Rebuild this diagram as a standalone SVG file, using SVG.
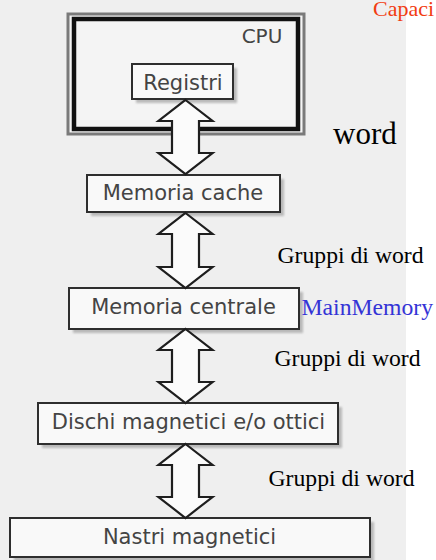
<svg xmlns="http://www.w3.org/2000/svg" width="436" height="560" viewBox="0 0 436 560">
  <style>
    .box { fill: #f9f9f9; stroke: #2e2e2e; stroke-width: 2; }
    .shadow { fill: #8c8c8c; opacity: 0.55; }
    .lbl { font-family: "DejaVu Sans", Verdana, sans-serif; font-size: 21px; fill: #444444; text-anchor: middle; }
    .note { font-family: "Liberation Serif", "Times New Roman", serif; font-size: 23.7px; fill: #000; }
    .arrow { fill: #fbfbfb; stroke: #1e1e1e; stroke-width: 2.2; stroke-linejoin: miter; }
  </style>
  <defs>
    <filter id="blur" x="-10%" y="-10%" width="130%" height="140%">
      <feGaussianBlur stdDeviation="1.2"/>
    </filter>
  </defs>

  <!-- scanned page background -->
  <rect x="0" y="0" width="436" height="560" fill="#ffffff"/>
  <rect x="0" y="0" width="406" height="560" fill="#efefef"/>

  <g id="cpu">
    <rect x="68" y="14" width="236" height="120" fill="#f4f4f4" stroke="#7a7a7a" stroke-width="3"/>
    <rect x="74" y="19" width="224" height="110" fill="none" stroke="#111" stroke-width="4.5"/>
    <text x="262" y="43" class="lbl" style="font-size:20px">CPU</text>
  </g>

  <g id="registri">
    <rect x="136" y="68" width="101" height="35" class="shadow" filter="url(#blur)"/>
    <rect x="132" y="64" width="101" height="35" class="box"/>
    <text x="183" y="90" class="lbl">Registri</text>
  </g>

  <g id="cache">
    <rect x="91" y="179" width="193" height="37" class="shadow" filter="url(#blur)"/>
    <rect x="87" y="175" width="193" height="37" class="box"/>
    <text x="183" y="200" class="lbl">Memoria cache</text>
  </g>

  <g id="centrale">
    <rect x="73" y="292" width="230" height="41" class="shadow" filter="url(#blur)"/>
    <rect x="69" y="288" width="230" height="41" class="box"/>
    <text x="183.5" y="314" class="lbl">Memoria centrale</text>
  </g>

  <g id="dischi">
    <rect x="42" y="407" width="300" height="41" class="shadow" filter="url(#blur)"/>
    <rect x="38" y="403" width="300" height="41" class="box"/>
    <text x="188.5" y="429" class="lbl">Dischi magnetici e/o ottici</text>
  </g>

  <g id="nastri">
    <rect x="14" y="522" width="360" height="40" class="shadow" filter="url(#blur)"/>
    <rect x="10" y="518" width="360" height="39" class="box"/>
    <text x="189.5" y="544" class="lbl">Nastri magnetici</text>
  </g>

  <g id="connectors">
    <polygon class="arrow" points="185.5,100 212.5,121 199,121 199,153 212.5,153 185.5,174 158.5,153 172,153 172,121 158.5,121"/>
    <polygon class="arrow" points="185.5,213 212.5,234 199,234 199,267 212.5,267 185.5,288 158.5,267 172,267 172,234 158.5,234"/>
    <polygon class="arrow" points="185.5,329 212.5,350 199,350 199,382 212.5,382 185.5,403 158.5,382 172,382 172,350 158.5,350"/>
    <polygon class="arrow" points="185.5,444 212.5,465 199,465 199,497 212.5,497 185.5,518 158.5,497 172,497 172,465 158.5,465"/>
  </g>

  <g id="labels">
    <text x="373" y="16" class="note" style="font-size:22px;fill:#f23c12">Capaci</text>
    <text x="333" y="144" class="note" style="font-size:31px">word</text>
    <text x="277.5" y="263" class="note">Gruppi di word</text>
    <text x="301.5" y="315" class="note" style="fill:#3434d6">MainMemory</text>
    <text x="274.5" y="366" class="note">Gruppi di word</text>
    <text x="268.5" y="486" class="note">Gruppi di word</text>
  </g>
</svg>
